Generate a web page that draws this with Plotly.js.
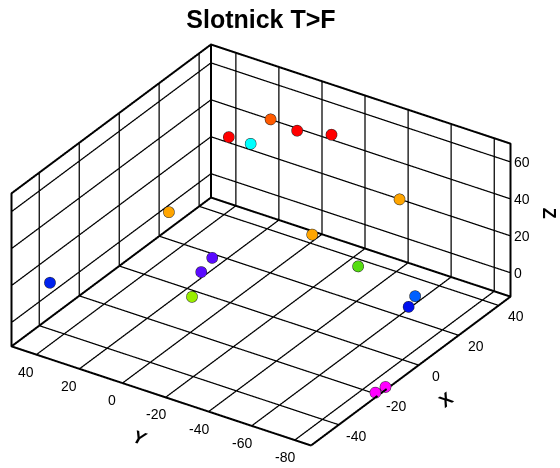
<!DOCTYPE html>
<html>
<head>
<meta charset="utf-8">
<script src="https://cdn.plot.ly/plotly-3.0.1.min.js"></script>
<style>html,body{margin:0;padding:0;background:#fff;}#chart{width:560px;height:468px;}</style>
</head>
<body>
<div id="chart"></div>
<script>
// Data
const xVals = [14.2, 32.3, 27.7, 31.1, 40.2, 18.4, -23.0, -11.4, 0.2, -8.1, -44.2, -8.8, 6.7, 4.2, -40.6, -20.6, -16.0];
const yVals = [13.9, 11.3, -5.3, -18.1, 27.9, -61.5, 7.2, -48.6, 8.6, 6.0, -23.2, -67.5, -79.6, -78.9, 46.1, -86.5, -86.9];
const zVals = [60, 56, 60, 60, 30, 52, 52, 52, 8, 8, 35, 40, 16, 12, 13, -11.5, -12];
const pointColors = ['#ff0000', '#ff5a00', '#ff0000', '#ff0000', '#00ffff', '#ffa500', '#ffa500', '#ffa500',
  '#5a0aff', '#5a0aff', '#99ee00', '#55dd11', '#0060ff', '#0010ee', '#0022ee', '#ff00ff', '#ff00ff'];

const xRange = [-54, 46];
const yRange = [-87.7, 51.7];
const zRange = [-13, 70];
const xTicks = [-40, -20, 0, 20, 40];
const yTicks = [40, 20, 0, -20, -40, -60, -80];
const zTicks = [0, 20, 40, 60];

const FONT = 'Liberation Sans, Arial, sans-serif';

// box limits from the axis ranges (slightly inset to avoid clipping)
const ins = (r, k) => r[0] + (r[1] - r[0]) * k;
const x0 = ins(xRange, 0.001), x1 = ins(xRange, 0.999);
const y0 = ins(yRange, 0.001), y1 = ins(yRange, 0.999);
const z0 = ins(zRange, 0.001), z1 = ins(zRange, 0.999);

// outline of the back walls and floor
const bx = [x0, x1, x1, x1, x0, x0, x0, null, x0, x1, x1, null, x1, x1];
const by = [y0, y0, y0, y1, y1, y1, y0, null, y1, y1, y0, null, y1, y1];
const bz = [z0, z0, z1, z1, z1, z0, z0, null, z0, z0, z0, null, z0, z1];

// grid on floor and the two back walls, at the tick values
const gx = [], gy = [], gz = [];
const seg = (a, b) => { gx.push(a[0], b[0], null); gy.push(a[1], b[1], null); gz.push(a[2], b[2], null); };
xTicks.forEach(t => { seg([t, y0, z0], [t, y1, z0]); seg([t, y1, z0], [t, y1, z1]); });
yTicks.forEach(t => { seg([x0, t, z0], [x1, t, z0]); seg([x1, t, z0], [x1, t, z1]); });
zTicks.forEach(t => { seg([x0, y1, t], [x1, y1, t]); seg([x1, y1, t], [x1, y0, t]); });

const traces = [
  {type: 'scatter3d', mode: 'lines', x: gx, y: gy, z: gz, connectgaps: false,
   line: {color: '#000', width: 2.5}, hoverinfo: 'skip', showlegend: false},
  {type: 'scatter3d', mode: 'lines', x: bx, y: by, z: bz, connectgaps: false,
   line: {color: '#000', width: 4}, hoverinfo: 'skip', showlegend: false},
  {type: 'scatter3d', mode: 'markers', x: xVals, y: yVals, z: zVals,
   marker: {size: 6.5, color: pointColors, opacity: 1, line: {color: '#222', width: 1}},
   hoverinfo: 'skip', showlegend: false}
];

// tick labels and axis titles as scene annotations (horizontal text like the reference)
const tickFont = {family: FONT, size: 14, color: '#000'};
const titleFont = {family: FONT, size: 18, color: '#000'};
const ann = [];
xTicks.forEach(t => ann.push({x: t, y: y0, z: z0, text: String(t), showarrow: false,
  xanchor: 'center', yanchor: 'middle', xshift: 17, yshift: -11, font: tickFont}));
yTicks.forEach(t => ann.push({x: x0, y: t, z: z0, text: String(t), showarrow: false,
  xanchor: 'center', yanchor: 'middle', xshift: -10, yshift: -17, font: tickFont}));
zTicks.forEach(t => ann.push({x: x1, y: y0, z: t, text: String(t), showarrow: false,
  xanchor: 'left', yanchor: 'middle', xshift: 2, yshift: 0, font: tickFont}));
ann.push({x: (x0 + x1) / 2, y: y0, z: z0, text: '<b>X</b>', showarrow: false, textangle: -37,
  xanchor: 'center', yanchor: 'middle', xshift: 35, yshift: -29, font: titleFont});
ann.push({x: x0, y: (y0 + y1) / 2, z: z0, text: '<b><i>Y</i></b>', showarrow: false, textangle: 18,
  xanchor: 'center', yanchor: 'middle', xshift: -21, yshift: -42, font: titleFont});
ann.push({x: x1, y: y0, z: (z0 + z1) / 2, text: '<b>Z</b>', showarrow: false, textangle: 90,
  xanchor: 'center', yanchor: 'middle', xshift: 38, yshift: 7, font: titleFont});

const axisCommon = {
  showbackground: false, showgrid: false, zeroline: false,
  showline: false, showspikes: false, tickmode: 'array', ticks: '',
  showticklabels: false, title: {text: ''}, color: '#000'
};

const eyeDir = [-0.7223, -0.4810, 0.4969];
const eyeR = 1.6;
const boxScale = 1.617;

const layout = {
  width: 560, height: 468,
  paper_bgcolor: '#fff',
  margin: {l: 0, r: 0, t: 0, b: 0},
  title: {text: '<b>Slotnick T>F</b>', x: 0.466, xanchor: 'center', y: 0.958, yanchor: 'middle',
          font: {family: FONT, size: 25, color: '#000'}},
  scene: {
    domain: {x: [0, 0.932], y: [0, 0.953]},
    aspectmode: 'manual', aspectratio: {x: boxScale, y: boxScale, z: 0.49 * boxScale},
    camera: {eye: {x: eyeDir[0]*eyeR, y: eyeDir[1]*eyeR, z: eyeDir[2]*eyeR},
             up: {x: 0, y: 0, z: 1}, center: {x: 0, y: 0, z: 0},
             projection: {type: 'orthographic'}},
    xaxis: Object.assign({}, axisCommon, {range: xRange, tickvals: xTicks}),
    yaxis: Object.assign({}, axisCommon, {range: yRange, tickvals: yTicks}),
    zaxis: Object.assign({}, axisCommon, {range: zRange, tickvals: zTicks}),
    annotations: ann
  },
  hovermode: false
};

Plotly.newPlot('chart', traces, layout, {displayModeBar: false});
</script>
</body>
</html>
